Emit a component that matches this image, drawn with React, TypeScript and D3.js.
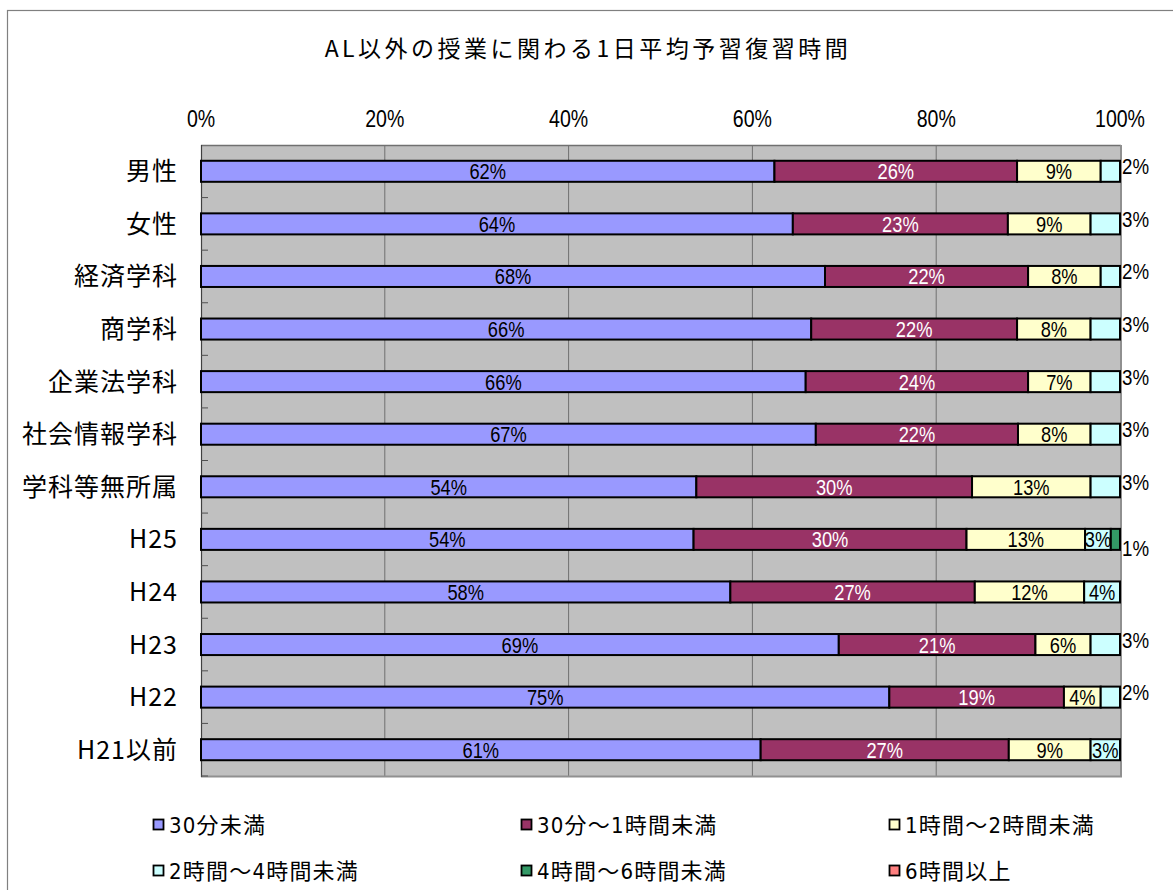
import React, { useEffect, useRef } from "react";
import * as d3 from "d3";

const categories = ["男性", "女性", "経済学科", "商学科", "企業法学科", "社会情報学科", "学科等無所属", "H25", "H24", "H23", "H22", "H21以前"];
const seriesNames = ["30分未満", "30分〜1時間未満", "1時間〜2時間未満", "2時間〜4時間未満", "4時間〜6時間未満", "6時間以上"];
const under30 = [62.4, 64.4, 67.9, 66.4, 65.8, 66.9, 53.9, 53.6, 57.6, 69.4, 74.9, 60.9];
const min30to1h = [26.4, 23.4, 22.1, 22.4, 24.2, 22.0, 30.0, 29.7, 26.6, 21.4, 19.0, 27.0];
const h1to2 = [9.1, 9.0, 7.9, 8.0, 6.8, 7.9, 12.9, 12.9, 11.9, 6.0, 4.0, 8.9];
const h2to4 = [2.1, 3.2, 2.1, 3.2, 3.2, 3.2, 3.2, 2.8, 3.9, 3.2, 2.1, 3.2];
const h4to6 = [0, 0, 0, 0, 0, 0, 0, 1.0, 0, 0, 0, 0];
const h6plus = [0, 0, 0, 0, 0, 0, 0, 0, 0, 0, 0, 0];
const tickValues = [0, 20, 40, 60, 80, 100];
const insideCyanLabelRows = ["H25", "H24", "H21以前"];

const colors = ["#9999FF", "#993366", "#FFFFCC", "#CCFFFF", "#339966", "#FF8080"];
const textColors = ["#000", "#fff", "#000", "#000", "#000", "#000"];

const FONT = "'Liberation Sans Narrow', 'DejaVu Sans Condensed', 'Noto Sans CJK JP', sans-serif";
const JFONT = "'Noto Sans CJK JP', sans-serif";
const NFONT = "'Liberation Sans', Arial, sans-serif";

export default function App() {
  const ref = useRef<SVGSVGElement>(null);

  useEffect(() => {
    const svg = d3.select(ref.current);
    svg.selectAll("*").remove();
    const W = 1173, H = 890;
    const left = 201, right = 1120, top = 145, bottom = 776;

    const narrowText = (tx: number, ty: number, txt: string, size: number, anchor: string, fill: string, sx = 0.8) => {
      svg.append("text").attr("transform", `translate(${tx},${ty}) scale(${sx},1)`)
        .attr("text-anchor", anchor).attr("font-family", NFONT).attr("font-size", size)
        .attr("fill", fill).text(txt);
    };

    svg.append("rect").attr("width", W).attr("height", H).attr("fill", "#fff");
    svg.append("rect").attr("x", 7.5).attr("y", 10.5).attr("width", 1300).attr("height", 1000)
      .attr("fill", "none").attr("stroke", "#808080").attr("stroke-width", 1.2);

    svg.append("text").attr("x", 588).attr("y", 57).attr("text-anchor", "middle")
      .attr("font-family", JFONT).attr("font-size", 23).attr("letter-spacing", 3.5).attr("fill", "#000")
      .text("AL以外の授業に関わる1日平均予習復習時間");

    const x = d3.scaleLinear().domain([0, 100]).range([left, right]);
    const y = d3.scaleBand<string>().domain(categories).range([top, bottom]).paddingInner(0.6).paddingOuter(0.3);

    // plot area
    svg.append("rect").attr("x", left).attr("y", top).attr("width", right - left).attr("height", bottom - top)
      .attr("fill", "#C0C0C0");
    tickValues.slice(1, -1).forEach((t) => {
      svg.append("line").attr("x1", x(t)).attr("x2", x(t)).attr("y1", top).attr("y2", bottom)
        .attr("stroke", "#707070").attr("stroke-width", 1);
    });
    // frame
    svg.append("line").attr("x1", left).attr("x2", right + 1).attr("y1", top + 0.5).attr("y2", top + 0.5)
      .attr("stroke", "#707070").attr("stroke-width", 1.5);
    svg.append("line").attr("x1", left).attr("x2", right + 2).attr("y1", bottom + 0.5).attr("y2", bottom + 0.5)
      .attr("stroke", "#909090").attr("stroke-width", 2);
    svg.append("line").attr("x1", right + 1).attr("x2", right + 1).attr("y1", top).attr("y2", bottom + 1)
      .attr("stroke", "#909090").attr("stroke-width", 2);
    svg.append("line").attr("x1", left + 0.5).attr("x2", left + 0.5).attr("y1", top).attr("y2", bottom + 1)
      .attr("stroke", "#404040").attr("stroke-width", 1.2);

    // minor inside ticks on category axis
    const step = y.step();
    for (let i = 1; i <= categories.length; i++) {
      const ty = top + i * step;
      svg.append("line").attr("x1", left).attr("x2", left + 7).attr("y1", ty).attr("y2", ty)
        .attr("stroke", "#505050").attr("stroke-width", 1);
    }

    // top tick labels
    tickValues.forEach((t) => {
      narrowText(x(t), 127, `${t}%`, 23, "middle", "#000", 0.85);
    });

    // category labels
    categories.forEach((c) => {
      svg.append("text").attr("x", 178).attr("y", (y(c) as number) + y.bandwidth() / 2 + 9)
        .attr("text-anchor", "end").attr("font-family", JFONT).attr("font-size", 25)
        .attr("letter-spacing", 1).attr("fill", "#000").text(c);
    });

    const series = [under30, min30to1h, h1to2, h2to4, h4to6, h6plus];
    const rows = categories.map((c, i) => {
      const obj: any = { cat: c };
      seriesNames.forEach((s, k) => (obj[s] = series[k][i]));
      return obj;
    });
    const stacked = d3.stack<any>().keys(seriesNames)(rows);

    stacked.forEach((layer, k) => {
      layer.forEach((d, i) => {
        const v = d[1] - d[0];
        if (v <= 0) return;
        const cat = categories[i];
        const by = y(cat) as number;
        const bh = y.bandwidth();
        svg.append("rect").attr("x", x(d[0])).attr("y", by).attr("width", x(d[1]) - x(d[0])).attr("height", bh)
          .attr("fill", colors[k]).attr("stroke", "#000").attr("stroke-width", 2);
      });
    });
    stacked.forEach((layer, k) => {
      layer.forEach((d, i) => {
        const v = d[1] - d[0];
        if (v <= 0) return;
        const cat = categories[i];
        const by = y(cat) as number;
        const bh = y.bandwidth();
        const label = `${Math.round(v)}%`;
        const isOutside = (k === 3 && !insideCyanLabelRows.includes(cat)) || k === 4;
        if (isOutside) {
          narrowText(right + 2, by + bh / 2 + (k === 4 ? 17 : 3), label, 22, "start", "#000", 0.85);
        } else {
          narrowText((x(d[0]) + x(d[1])) / 2, by + bh / 2 + 8, label, 21.5, "middle", textColors[k], 0.85);
        }
      });
    });

    // legend
    const legendPos = [
      [153, 825], [521, 825], [889, 825],
      [153, 871], [521, 871], [889, 871],
    ];
    seriesNames.forEach((s, k) => {
      const [lx, ly] = legendPos[k];
      svg.append("rect").attr("x", lx + 0.5).attr("y", ly - 5.5).attr("width", 10).attr("height", 10)
        .attr("fill", colors[k]).attr("stroke", "#000").attr("stroke-width", 1.8);
      svg.append("text").attr("x", lx + 16).attr("y", ly + 8).attr("font-family", FONT).attr("font-size", 22)
        .attr("letter-spacing", 1.2).attr("fill", "#000").text(s);
    });
  }, []);

  return (
    <svg ref={ref} width={1173} height={890} style={{ position: "absolute", left: 0, top: 0 }} />
  );
}
